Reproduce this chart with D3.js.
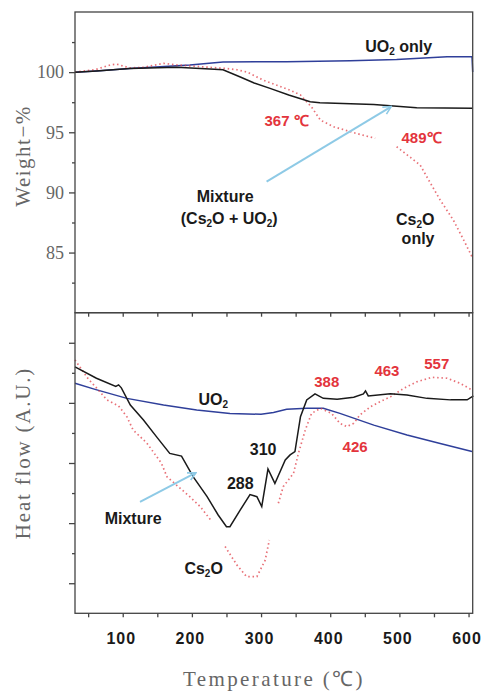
<!DOCTYPE html>
<html>
<head>
<meta charset="utf-8">
<script src="https://cdn.jsdelivr.net/npm/d3@7"></script>
<style>
  body { margin: 0; background: #fff; }
  .serif { font-family: "Liberation Serif", "Times New Roman", serif; fill: #666; }
  .note { font-family: "Liberation Sans", Arial, sans-serif; font-weight: bold; }
</style>
</head>
<body>
<script>
"use strict";

// temperature ticks (shared x axis)
const tempTicks = [100, 200, 300, 400, 500, 600];
const tempMinor = [50, 150, 250, 350, 450, 550];
const weightTicks = [85, 90, 95, 100];
const weightMinor = [82.5, 87.5, 92.5, 97.5, 102.5];
const heatTicks = [1, 3, 5, 7, 9];
const heatMinor = [2, 4, 6, 8];

// TGA : [temperature, weight %]
const uo2Weight = [[31, 100.0], [62, 100.1], [110, 100.3], [197, 100.6], [245, 100.85], [337, 100.87],
  [429, 100.95], [496, 101.06], [569, 101.28], [605, 101.28], [606, 100.0]];
const mixtureWeight = [[31, 100.0], [62, 100.1], [110, 100.3], [178, 100.4], [226, 100.26], [245, 100.2],
  [270, 99.6], [290, 99.1], [313, 98.65], [340, 98.1], [371, 97.54], [385, 97.46], [463, 97.3],
  [525, 97.04], [606, 97.0]];
const cs2oWeight = [[31, 100.0], [60, 100.2], [82, 100.6], [91, 100.67], [110, 100.35], [130, 100.4],
  [159, 100.73], [178, 100.6], [226, 100.4], [250, 100.3], [265, 100.2], [280, 100.0], [303, 99.34],
  [342, 98.5], [357, 98.1], [373, 97.1], [386, 96.0], [405, 95.46], [438, 94.9], [465, 94.5],
  [480, null], [496, 93.8], [530, 92.28], [545, 90.76], [559, 89.37], [578, 87.7], [593, 86.04], [605, 84.65]];

// DSC : [temperature, heat flow (a.u.)]
const uo2Heat = [[31, 7.65], [60, 7.45], [106, 7.15], [159, 6.93], [207, 6.76], [255, 6.65], [300, 6.62],
  [318, 6.68], [337, 6.79], [366, 6.82], [390, 6.82], [414, 6.65], [463, 6.26], [511, 5.93],
  [559, 5.65], [605, 5.38]];
const mixtureHeat = [[31, 8.2], [62, 7.82], [90, 7.55], [94, 7.6], [98, 7.5], [111, 6.93], [130, 6.43],
  [149, 5.87], [168, 5.32], [185, 5.23], [202, 4.54], [222, 3.88], [238, 3.27], [250, 2.88], [255, 2.88],
  [270, 3.44], [284, 3.95], [294, 3.88], [301, 3.55], [310, 4.8], [320, 4.32], [335, 5.1], [342, 5.27],
  [349, 5.38], [357, 6.54], [366, 7.1], [378, 7.3], [390, 7.15], [410, 7.12], [434, 7.19], [448, 7.3],
  [451, 7.4], [455, 7.23], [487, 7.3], [511, 7.26], [540, 7.15], [574, 7.1], [598, 7.1], [607, 7.23]];
const cs2oHeat = [[31, 8.43], [50, 7.8], [62, 7.5], [77, 7.1], [94, 6.9], [106, 6.54], [115, 6.1],
  [135, 5.66], [156, 4.99], [164, 4.54], [197, 3.88], [212, 3.55], [229, 3.05], [238, null], [248, 2.22],
  [265, 1.61], [279, 1.22], [294, 1.22], [306, 1.77], [312, 2.44], [318, null], [325, 3.66], [332, 4.21],
  [347, 4.66], [354, 5.32], [364, 6.1], [373, 6.65], [386, 6.82], [402, 6.65], [414, 6.32], [424, 6.21],
  [434, 6.32], [443, 6.6], [458, 6.87], [472, 7.04], [487, 7.2], [506, 7.48], [525, 7.7], [547, 7.85],
  [569, 7.82], [588, 7.65], [605, 7.43]];

// labels in data units : [text, temperature, value, colour]
const topNotes = [["UO₂ only", 499, 101.67, "k"], ["367 ℃", 337, 95.5, "r"], ["489℃", 532, 94.1, "r"],
  ["Mixture", 248, 89.2, "k"], ["(Cs₂O + UO₂)", 254, 87.4, "k"], ["Cs₂O", 523, 87.3, "k"], ["only", 527, 85.75, "k"]];
const botNotes = [["UO₂", 231, 6.93, "k"], ["388", 395, 7.53, "r"], ["463", 482, 7.91, "r"], ["557", 554, 8.13, "r"],
  ["426", 436, 5.37, "r"], ["310", 303, 5.25, "k"], ["288", 270, 4.14, "k"], ["Mixture", 115, 2.97, "k"],
  ["Cs₂O", 217, 1.31, "k"]];
const topArrow = [[308, 90.9], [487, 97.1]];
const botArrow = [[125, 3.71], [204.6, 4.66]];

const W = 481, H = 692;
const svg = d3.select("body").append("svg").attr("width", W).attr("height", H);

const x = d3.scaleLinear().domain([31, 606]).range([75, 472.7]);
const yTop = d3.scaleLinear().domain([80, 105]).range([312.7, 12]);
const yBot = d3.scaleLinear().domain([0, 10]).range([613.3, 312.7]);

svg.append("defs").append("marker")
  .attr("id", "head").attr("viewBox", "0 0 10 10").attr("refX", 8).attr("refY", 5)
  .attr("markerWidth", 5).attr("markerHeight", 5).attr("orient", "auto")
  .append("path").attr("d", "M1,1 L9,5 L1,9").attr("fill", "none")
  .attr("stroke", "#8ecae6").attr("stroke-width", 1.6);

function frame(y) {
  svg.append("rect")
    .attr("x", x.range()[0]).attr("y", y.range()[1])
    .attr("width", x.range()[1] - x.range()[0]).attr("height", y.range()[0] - y.range()[1])
    .attr("fill", "none").attr("stroke", "#444").attr("stroke-width", 1.3);
}

function axes(y, major, minor, labels) {
  const left = svg.append("g").attr("transform", `translate(${x.range()[0]},0)`);
  left.call(d3.axisLeft(y).tickValues(major).tickSize(6).tickPadding(5)
    .tickFormat(labels ? d3.format("d") : ""));
  left.append("g").call(d3.axisLeft(y).tickValues(minor).tickSize(3).tickFormat(""));
  left.selectAll(".domain").remove();
  left.selectAll("line").attr("stroke", "#444").attr("stroke-width", 1.3);
  left.selectAll("text").attr("class", "serif").attr("font-size", 18).attr("fill", "#666");

  const bottom = svg.append("g").attr("transform", `translate(0,${y.range()[0]})`);
  bottom.call(d3.axisBottom(x).tickValues(tempTicks).tickSize(4).tickPadding(15)
    .tickFormat(labels ? "" : d3.format("d")));
  bottom.append("g").call(d3.axisBottom(x).tickValues(tempMinor).tickSize(4).tickFormat(""));
  bottom.selectAll(".domain").remove();
  bottom.selectAll("line").attr("stroke", "#444").attr("stroke-width", 1.3);
  bottom.selectAll("text").attr("class", "note").attr("font-size", 16).attr("fill", "#1a1a1a")
    .attr("letter-spacing", 1).attr("dx", -2);
}

function series(y, data, colour, dotted) {
  const line = d3.line().defined((d) => d[1] != null).x((d) => x(d[0])).y((d) => y(d[1]));
  svg.append("path").datum(data).attr("d", line).attr("fill", "none")
    .attr("stroke", colour)
    .attr("stroke-width", dotted ? 1.7 : 1.5)
    .attr("stroke-dasharray", dotted ? "1.5,2.8" : null)
    .attr("opacity", dotted ? 0.75 : 1);
}

function notes(y, list) {
  list.forEach(([t, tx, ty, c]) => {
    const el = svg.append("text").attr("class", "note").attr("x", x(tx)).attr("y", y(ty))
      .attr("text-anchor", "middle")
      .attr("font-size", c === "r" ? 15 : 16)
      .attr("fill", c === "r" ? "#e3343c" : "#1a1a1a");
    // subscript 2 drawn as a lowered small tspan
    t.split("₂").forEach((part, i) => {
      if (i > 0) el.append("tspan").attr("font-size", 10).attr("dy", 3).text("2");
      if (part) el.append("tspan").attr("dy", i > 0 ? -3 : 0).text(part);
    });
  });
}

function arrow(y, pts) {
  svg.append("line")
    .attr("x1", x(pts[0][0])).attr("y1", y(pts[0][1]))
    .attr("x2", x(pts[1][0])).attr("y2", y(pts[1][1]))
    .attr("stroke", "#8ecae6").attr("stroke-width", 2).attr("marker-end", "url(#head)");
}

// top panel : weight
series(yTop, uo2Weight, "#2f3f9a", false);
series(yTop, cs2oWeight, "#e0404a", true);
series(yTop, mixtureWeight, "#1a1a1a", false);
notes(yTop, topNotes);
arrow(yTop, topArrow);
frame(yTop);
axes(yTop, weightTicks, weightMinor, true);

// bottom panel : heat flow
series(yBot, uo2Heat, "#2f3f9a", false);
series(yBot, cs2oHeat, "#e0404a", true);
series(yBot, mixtureHeat, "#1a1a1a", false);
notes(yBot, botNotes);
arrow(yBot, botArrow);
frame(yBot);
axes(yBot, heatTicks, heatMinor, false);

// axis titles
svg.append("text").attr("class", "serif").attr("font-size", 21).attr("letter-spacing", 1.5)
  .attr("text-anchor", "middle").attr("transform", `translate(30,156) rotate(-90)`).text("Weight−%");
svg.append("text").attr("class", "serif").attr("font-size", 21).attr("letter-spacing", 1.8)
  .attr("text-anchor", "middle").attr("transform", `translate(30,453) rotate(-90)`).text("Heat flow (A.U.)");
svg.append("text").attr("class", "serif").attr("font-size", 21).attr("letter-spacing", 2.4)
  .attr("text-anchor", "middle").attr("x", 274).attr("y", 686).text("Temperature (℃)");
</script>
</body>
</html>
